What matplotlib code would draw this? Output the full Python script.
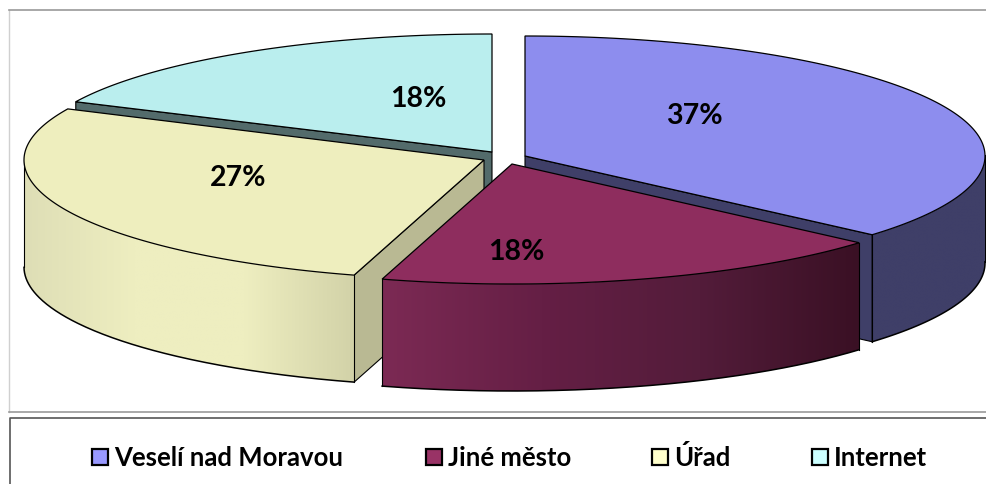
#!/usr/bin/env python3
"""Exploded 3D style pie with a boxed legend, drawn in pixel coordinates."""

import matplotlib
matplotlib.use("Agg")
import matplotlib.pyplot as plt
import numpy as np
from matplotlib.colors import LinearSegmentedColormap
from matplotlib.patches import Polygon, Rectangle

categories = ["Veselí nad Moravou", "Jiné město", "Úřad", "Internet"]
shares = [37, 18, 27, 18]

top_colors = ["#8D8DEE", "#8E2D5E", "#EEEEBE", "#BAEEEE"]
swatch_colors = ["#9999FF", "#993366", "#FFFFCC", "#CCFFFF"]
inner_colors = ["#3F3F68", "#3F1026", "#B9B993", "#536B6B"]
# wall shading, left to right
wall_stops = [
    ["#3F3F68", "#3F3F68"],
    ["#7C2A54", "#651F45", "#531C3A", "#3A1024"],
    ["#DEDEB6", "#EEEEC0", "#EEEEC0", "#D2D2A8"],
    ["#536B6B", "#536B6B"],
]
apexes = [(525, 157), (512, 165), (484, 161), (492, 153)]
radii_y = [120, 120, 120, 118]
label_pos = [(694, 116), (516, 252), (238, 178), (418, 99)]
legend_x = [92, 426, 652, 812]

# small angle correction for the perspective of the original
warp_deg = [0, 90, 133, 198, 270, 360]
warp_off = [0, 1.0, 2.2, 1.6, 0, 0]

RX, DEPTH = 460, 107

plt.rcParams["font.family"] = ["Lato", "DejaVu Sans"]


def rim(apex, ry, t):
    t = t - np.radians(np.interp(np.degrees(t), warp_deg, warp_off))
    return apex[0] + RX*np.sin(t), apex[1] - ry*np.cos(t)


fig = plt.figure(figsize=(9.87, 4.85), dpi=100)
ax = fig.add_axes([0, 0, 1, 1])

# chart frame and legend box
ax.plot([9, 9], [413, 11], color="#D0D0D0", lw=1)
ax.plot([9, 987], [11, 11], color="#9A9A9A", lw=1.2)
ax.plot([9, 987], [413, 413], color="#9A9A9A", lw=1.2)
ax.plot([10, 10, 987], [485, 419, 419], color="#555555", lw=1.2)

edges = np.cumsum([0] + shares)/sum(shares)*2*np.pi
z = 3
for idx in [3, 0, 2, 1]:
    apex = apexes[idx]
    t0, t1 = edges[idx], edges[idx + 1]
    t = np.linspace(t0, t1, 300)
    x, y = rim(apex, radii_y[idx], t)

    # inner cut face towards the viewer
    if idx != 1:
        cx, cy = rim(apex, radii_y[idx], t1 if idx == 0 else t0)
        ax.add_patch(Polygon([apex, (cx, cy), (cx, cy + DEPTH), (apex[0], apex[1] + DEPTH)],
                             fc=inner_colors[idx], ec="black", lw=0.8, zorder=z))
        z += 1

    # outer wall for the front half of the rim
    front = (t >= np.pi/2) & (t <= 3*np.pi/2)
    if front.any():
        xf, yf = x[front], y[front]
        wall = np.column_stack([np.r_[xf, xf[::-1]], np.r_[yf, yf[::-1] + DEPTH]])
        cmap = LinearSegmentedColormap.from_list("wall", wall_stops[idx])
        ramp = np.linspace(0, 1, 256).reshape(1, -1)
        img = ax.imshow(ramp, cmap=cmap, aspect="auto", zorder=z, interpolation="bilinear",
                        extent=(xf.min(), xf.max(), yf.max() + DEPTH, yf.min()))
        clip = Polygon(wall, transform=ax.transData, fc="none", ec="none")
        ax.add_patch(clip)
        img.set_clip_path(clip)
        z += 1
        ax.plot(xf, yf + DEPTH, color="black", lw=1.1, zorder=z)
        ax.plot([xf[0], xf[0]], [yf[0], yf[0] + DEPTH], color="black", lw=0.8, zorder=z)
        ax.plot([xf[-1], xf[-1]], [yf[-1], yf[-1] + DEPTH], color="black", lw=0.8, zorder=z)
        z += 1

    ax.add_patch(Polygon(np.column_stack([np.r_[apex[0], x], np.r_[apex[1], y]]),
                         fc=top_colors[idx], ec="black", lw=0.9, zorder=z))
    z += 1

for value, (px, py) in zip(shares, label_pos):
    ax.text(px, py, f"{value}%", ha="center", va="center", fontsize=20.5,
            fontweight="bold", color="black", zorder=z)

for name, color, sx in zip(categories, swatch_colors, legend_x):
    ax.add_patch(Rectangle((sx, 449.5), 16, 16, fc=color, ec="black", lw=1.6, zorder=z))
    ax.text(sx + 22, 466, name, ha="left", va="baseline", fontsize=18.5,
            fontweight="bold", color="black", zorder=z)

ax.set_xlim(0, 987)
ax.set_ylim(485, 0)
ax.axis("off")

fig.savefig("out.png", dpi=100)
